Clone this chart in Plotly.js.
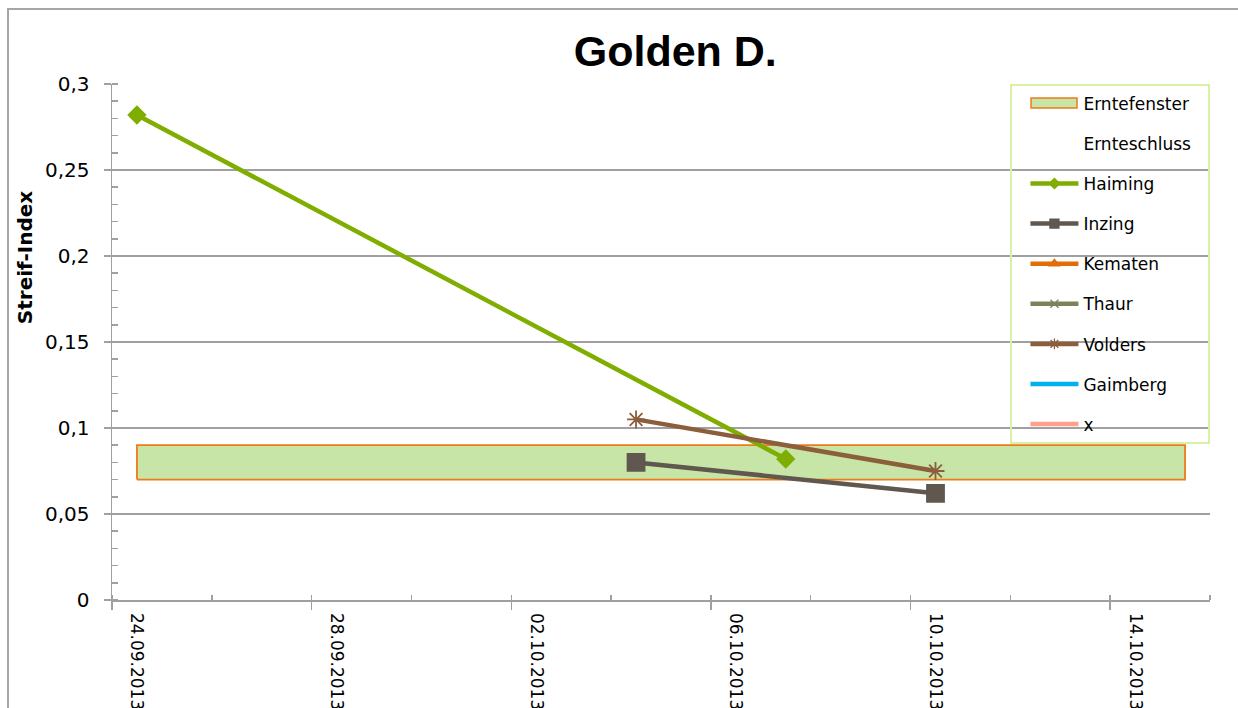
<!DOCTYPE html>
<html>
<head>
<meta charset="utf-8">
<script src="https://cdn.plot.ly/plotly-3.0.1.min.js"></script>
<style>
html, body { margin: 0; padding: 0; overflow: hidden; background: #ffffff; width: 1238px; height: 708px; }
#chart { position: absolute; left: 0; top: 0; width: 1238px; height: 708px; }
#frame { position: absolute; left: 7px; top: 8px; width: 1229px; height: 698px; border-left: 2px solid #a6a6a6; border-top: 2px solid #a6a6a6; pointer-events: none; }
</style>
</head>
<body>
<div id="chart"></div>
<div id="frame"></div>
<script>
// ---- data ----
const chartTitle = 'Golden D.';
const yTitle = 'Streif-Index';
const seriesNames = ['Erntefenster', 'Ernteschluss', 'Haiming', 'Inzing', 'Kematen', 'Thaur', 'Volders', 'Gaimberg', 'x'];

const bandDates = ['2013-09-24', '2013-10-15'];
const bandLow = 0.07;
const bandHigh = 0.09;

const haimingDates = ['2013-09-24', '2013-10-07'];
const haimingValues = [0.282, 0.082];

const inzingDates = ['2013-10-04', '2013-10-10'];
const inzingValues = [0.080, 0.062];

const voldersDates = ['2013-10-04', '2013-10-10'];
const voldersValues = [0.105, 0.075];

const xRange = ['2013-09-24', '2013-10-16'];
const yRange = [0, 0.3];

// Excel date axis: each day is plotted in the middle of its interval
function mid(d) { return d + ' 12:00'; }
const DAY = 86400000;

const FONT = 'DejaVu Sans';
const GRID = '#a0a0a0';
const BAND_FILL = '#c7e5a6';
const BAND_LINE = '#f07a1a';

const styles = {
  Haiming:  { color: '#7fad00', symbol: 'diamond',       size: 13, legendSize: 8 },
  Inzing:   { color: '#60574f', symbol: 'square',        size: 17, legendSize: 9 },
  Kematen:  { color: '#e36c09', symbol: 'triangle-up',   size: 10, legendSize: 9 },
  Thaur:    { color: '#7f8158', symbol: 'x-thin-open',   size: 10, legendSize: 8 },
  Volders:  { color: '#8b5e3c', symbol: 'asterisk-open', size: 15, legendSize: 9 },
  Gaimberg: { color: '#00b0f0', symbol: null },
  x:        { color: '#ff9f8c', symbol: null }
};

const traces = [];

// --- drawn series ---
traces.push({
  name: seriesNames[0], showlegend: false,
  x: [mid(bandDates[0]), mid(bandDates[1]), mid(bandDates[1]), mid(bandDates[0]), mid(bandDates[0])],
  y: [bandLow, bandLow, bandHigh, bandHigh, bandLow],
  type: 'scatter', mode: 'lines', fill: 'toself',
  fillcolor: BAND_FILL, line: { color: BAND_LINE, width: 1.8 },
  hoverinfo: 'skip'
});

function dataTrace(name, xs, ys) {
  const s = styles[name];
  return {
    name: name, showlegend: false,
    x: xs.map(mid), y: ys,
    type: 'scatter', mode: 'lines+markers',
    line: { color: s.color, width: 4.5 },
    marker: { symbol: s.symbol, size: s.size, color: s.color, line: { width: 1.8, color: s.color } }
  };
}
traces.push(dataTrace('Haiming', haimingDates, haimingValues));
traces.push(dataTrace('Inzing', inzingDates, inzingValues));
traces.push(dataTrace('Volders', voldersDates, voldersValues));

// --- legend entries ---
seriesNames.slice(0, 2).forEach(function (name, i) {
  traces.push({
    name: name, legendgroup: 'g' + i,
    x: [mid(bandDates[0])], y: [null],
    type: 'scatter', mode: 'lines', line: { color: 'rgba(0,0,0,0)', width: 0 }
  });
});
seriesNames.slice(2).forEach(function (name, i) {
  const s = styles[name];
  const t = {
    name: name, legendgroup: 'g' + (i + 2),
    x: [mid(bandDates[0])], y: [null],
    type: 'scatter', mode: s.symbol ? 'lines+markers' : 'lines',
    line: { color: s.color, width: 4.5 }
  };
  if (s.symbol) {
    t.marker = { symbol: s.symbol, size: s.legendSize, color: s.color, line: { width: 1.3, color: s.color } };
  }
  traces.push(t);
});

const layout = {
  width: 1238, height: 708,
  margin: { l: 112, r: 28, t: 84, b: 108, pad: 0 },
  paper_bgcolor: 'rgba(0,0,0,0)', plot_bgcolor: 'rgba(0,0,0,0)',
  separators: ',.',
  font: { family: FONT, color: '#000000' },
  showlegend: true,
  title: {
    text: '<b>' + chartTitle + '</b>',
    font: { family: 'Liberation Sans', size: 43, color: '#000000' },
    xref: 'paper', x: 0.513, xanchor: 'center',
    yref: 'container', y: 0.928, yanchor: 'middle'
  },
  xaxis: {
    type: 'date', range: xRange,
    tickmode: 'linear', tick0: xRange[0], dtick: 4 * DAY,
    tickformat: '%d.%m.%Y', tickangle: 90,
    ticklabelshift: 25,
    tickfont: { family: FONT, size: 17, color: '#000000' },
    ticks: 'outside', ticklen: 8, tickwidth: 1.5, tickcolor: GRID,
    minor: { tickmode: 'linear', tick0: xRange[0], dtick: 2 * DAY, ticks: 'inside', ticklen: 5, tickwidth: 1.5, tickcolor: GRID, showgrid: false },
    showgrid: false, zeroline: false,
    showline: true, linecolor: GRID, linewidth: 1.5
  },
  yaxis: {
    range: yRange, tickmode: 'linear', tick0: 0, dtick: 0.05,
    tickfont: { family: FONT, size: 20, color: '#000000' },
    ticks: 'outside', ticklen: 7, tickwidth: 1.5, tickcolor: GRID,
    minor: { tickmode: 'linear', tick0: 0, dtick: 0.01, ticks: 'inside', ticklen: 6, tickwidth: 1.5, tickcolor: GRID, showgrid: false },
    showgrid: true, gridcolor: GRID, gridwidth: 1.5,
    zeroline: false, showline: true, linecolor: GRID, linewidth: 1.5,
    ticklabelstandoff: 10
  },
  legend: {
    x: 0.8319, xanchor: 'left', y: 0.9966, yanchor: 'top',
    bgcolor: 'rgba(0,0,0,0)', borderwidth: 0,
    font: { family: FONT, size: 17, color: '#000000' },
    traceorder: 'grouped', tracegroupgap: 15,
    itemwidth: 48
  },
  annotations: [{
    text: '<b>' + yTitle + '</b>', textangle: -90,
    xref: 'paper', yref: 'paper', x: -0.079, y: 0.663,
    xanchor: 'center', yanchor: 'middle', showarrow: false,
    font: { family: FONT, size: 20, color: '#000000' }
  }],
  shapes: [
    {
      // legend frame
      type: 'rect', xref: 'paper', yref: 'paper',
      x0: 0.8188, x1: 0.9991, y0: 0.3043, y1: 0.998,
      line: { color: '#d6f2a4', width: 2 }, fillcolor: 'rgba(0,0,0,0)', layer: 'above'
    },
    {
      // legend key for Erntefenster
      type: 'rect', xref: 'paper', yref: 'paper',
      x0: 0.8370, x1: 0.8789, y0: 0.9535, y1: 0.9729,
      line: { color: BAND_LINE, width: 1.5 }, fillcolor: BAND_FILL, layer: 'above'
    }
  ]
};

Plotly.newPlot('chart', traces, layout, { displayModeBar: false, staticPlot: true });
</script>
</body>
</html>
